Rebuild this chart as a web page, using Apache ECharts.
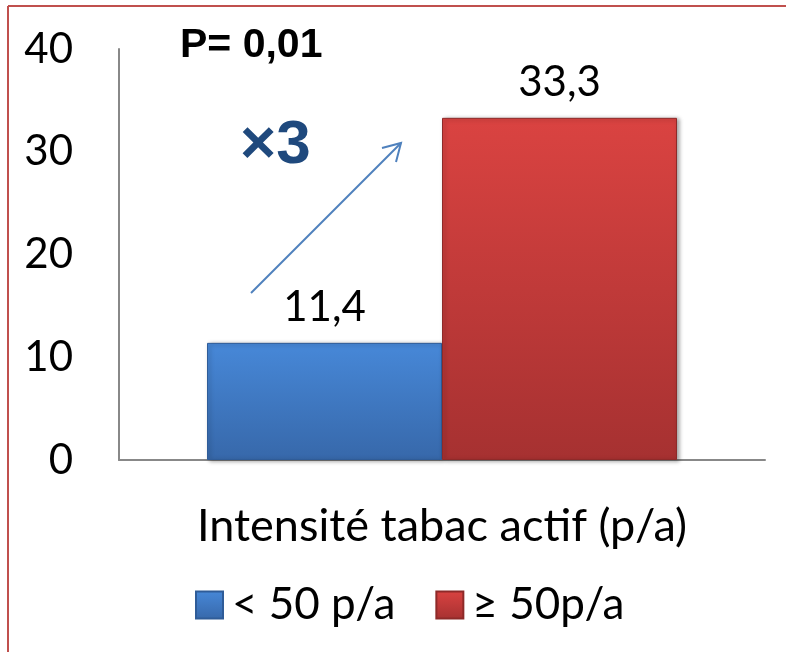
<!DOCTYPE html>
<html>
<head>
    <meta charset="utf-8" />
    <title></title>
    <style>
        html, body {
            margin: 0;
            padding: 0;
            background: #fff;
        }

        #chart {
            width: 786px;
            height: 652px;
        }
    </style>
    <script src="https://cdn.jsdelivr.net/npm/echarts@6/dist/echarts.min.js"></script>
</head>
<body>
    <div id="chart"></div>
    <script>
        var categories = ['Intensité tabac actif (p/a)'];
        var seriesNames = ['< 50 p/a', '≥ 50p/a'];
        var lowValues = [11.4];
        var highValues = [33.3];
        var yTicks = [0, 10, 20, 30, 40];

        var font = 'Lato, "Open Sans", sans-serif';

        function grad(top, bottom) {
            return new echarts.graphic.LinearGradient(0, 0, 0, 1, [
                { offset: 0, color: top },
                { offset: 1, color: bottom }
            ]);
        }

        function commaLabel(p) {
            return String(p.value).replace('.', ',');
        }

        var myChart = echarts.init(document.getElementById('chart'));
        var option = {
            backgroundColor: '#fff',
            animation: false,
            grid: {
                left: 119,
                right: 21,
                top: 49,
                bottom: 192
            },
            legend: {
                data: seriesNames,
                top: 578,
                left: 190,
                itemWidth: 27,
                itemHeight: 27,
                itemGap: 40,
                icon: 'rect',
                textStyle: {
                    fontFamily: font,
                    fontSize: 44,
                    color: '#000',
                    padding: [0, 0, 0, 4]
                }
            },
            xAxis: [
                {
                    type: 'category',
                    data: categories,
                    axisLine: { lineStyle: { color: '#888', width: 2 } },
                    axisTick: { show: false },
                    axisLabel: {
                        fontFamily: font,
                        fontSize: 45,
                        color: '#000',
                        margin: 44
                    }
                }
            ],
            yAxis: [
                {
                    type: 'value',
                    min: yTicks[0],
                    max: yTicks[yTicks.length - 1],
                    interval: 10,
                    axisLine: { show: true, lineStyle: { color: '#888', width: 2 } },
                    axisTick: { show: false },
                    splitLine: { show: false },
                    axisLabel: {
                        fontFamily: font,
                        fontSize: 42,
                        color: '#000',
                        margin: 46
                    }
                }
            ],
            series: [
                {
                    name: seriesNames[0],
                    type: 'bar',
                    barWidth: 235,
                    barGap: '0%',
                    data: lowValues,
                    itemStyle: {
                        color: grad('#4788d8', '#3768aa'),
                        borderColor: '#2f5c98',
                        borderWidth: 1,
                        shadowBlur: 4,
                        shadowOffsetX: 2,
                        shadowOffsetY: 1,
                        shadowColor: 'rgba(0,0,0,0.35)'
                    },
                    label: {
                        show: true,
                        position: 'top',
                        distance: 14,
                        formatter: commaLabel,
                        fontFamily: font,
                        fontSize: 42,
                        color: '#000'
                    }
                },
                {
                    name: seriesNames[1],
                    type: 'bar',
                    barWidth: 235,
                    data: highValues,
                    itemStyle: {
                        color: grad('#da4341', '#a63131'),
                        borderColor: '#8e2a29',
                        borderWidth: 1,
                        shadowBlur: 4,
                        shadowOffsetX: 2,
                        shadowOffsetY: 1,
                        shadowColor: 'rgba(0,0,0,0.35)'
                    },
                    label: {
                        show: true,
                        position: 'top',
                        distance: 14,
                        formatter: commaLabel,
                        fontFamily: font,
                        fontSize: 42,
                        color: '#000'
                    }
                }
            ],
            graphic: [
                // frame (top + left edges only)
                { type: 'line', shape: { x1: 8, y1: 6, x2: 786, y2: 6 }, style: { stroke: '#c0504d', lineWidth: 2 } },
                { type: 'line', shape: { x1: 8, y1: 6, x2: 8, y2: 652 }, style: { stroke: '#c0504d', lineWidth: 2 } },
                {
                    type: 'text', left: 180, top: 25,
                    style: { text: 'P= 0,01', font: 'bold 41px "Liberation Sans", Arial, sans-serif', fill: '#000' }
                },
                {
                    type: 'text', left: 240, top: 115,
                    style: { text: '×3', font: 'bold 62px "Liberation Sans", Arial, sans-serif', fill: '#1f497d' }
                },
                // arrow
                { type: 'line', shape: { x1: 251, y1: 293, x2: 401, y2: 143 }, style: { stroke: '#4f81bd', lineWidth: 2 } },
                { type: 'polyline', shape: { points: [[382, 148], [401, 143], [396, 162]] }, style: { stroke: '#4f81bd', lineWidth: 2, fill: null } }
            ]
        };
        myChart.setOption(option);
    </script>
</body>
</html>
